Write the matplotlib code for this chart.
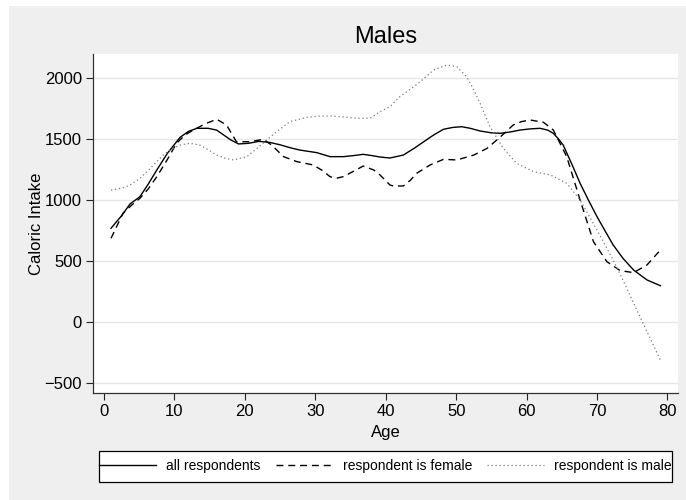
import matplotlib.pyplot as plt
from matplotlib.lines import Line2D
from matplotlib.patches import Rectangle

plt.rcParams['font.family'] = ['Liberation Sans', 'DejaVu Sans']

# smoothed caloric intake by age
age_all = [1, 2.5, 3.7, 5.1, 6.3, 7.5, 9, 10.8, 12, 13.2, 14.8, 16, 17, 18, 19.1,
           20.5, 22, 23.5, 25, 26.5, 27.8, 30.2, 32.1, 34, 35.5, 36.8, 38, 39.2,
           40.6, 42.5, 44, 45.4, 46.8, 48.2, 49.5, 50.8, 52, 53.4, 55, 56.3, 57.7,
           59.1, 60.5, 61.9, 63, 63.8, 64.5, 65.2, 66.4, 67.6, 68.8, 70, 71.2,
           72.3, 73.7, 75.2, 77.1, 79]
cal_all = [767, 870, 966, 1025, 1130, 1244, 1380, 1511, 1560, 1585, 1585, 1570,
           1530, 1490, 1457, 1462, 1478, 1470, 1450, 1425, 1407, 1386, 1353, 1353,
           1362, 1372, 1362, 1350, 1342, 1366, 1420, 1475, 1530, 1577, 1592, 1598,
           1585, 1563, 1548, 1544, 1555, 1571, 1580, 1585, 1570, 1544, 1500, 1448,
           1295, 1135, 995, 862, 740, 630, 520, 425, 344, 297]

age_female = [1, 2.7, 4, 5.1, 6.3, 7.5, 9, 10.3, 11.5, 12.7, 14.3, 16, 17.4, 18.8,
              20.7, 22.6, 23.8, 25.5, 27.4, 29.7, 31, 32.1, 33, 34, 34.9, 36.8,
              38.3, 39.2, 40.6, 41.1, 42.5, 43.5, 44.4, 46.3, 48.2, 50.1, 52.5,
              54.4, 56.3, 58.1, 59.3, 60.5, 62.4, 63.8, 65.7, 67.6, 69.5, 71.4,
              73.3, 75.2, 77.1, 79]
cal_female = [685, 890, 960, 1012, 1090, 1189, 1330, 1462, 1530, 1571, 1620, 1659,
              1612, 1475, 1475, 1495, 1448, 1353, 1312, 1285, 1240, 1189, 1176,
              1190, 1217, 1276, 1244, 1203, 1121, 1113, 1113, 1160, 1217, 1285,
              1331, 1326, 1366, 1421, 1516, 1612, 1640, 1653, 1634, 1571, 1353,
              998, 657, 494, 420, 404, 467, 589]

age_male = [1, 2.5, 3.7, 5, 6.1, 7.3, 8.4, 9.6, 10.8, 12.2, 13.6, 14.8, 16, 17.2,
            18.4, 20.3, 21.7, 23.1, 24.8, 26.4, 28.8, 30.5, 32.1, 34, 35.9, 37.8,
            39.2, 40.6, 42, 43.5, 44.9, 46.8, 48.7, 50.1, 51.5, 52.5, 53.4, 54.8,
            56.7, 58.6, 61, 63.4, 65.7, 67.6, 70, 72.3, 73.8, 75.2, 77.1, 79]
cal_male = [1080, 1095, 1121, 1170, 1230, 1300, 1366, 1415, 1448, 1462, 1448, 1410,
            1366, 1340, 1326, 1353, 1420, 1489, 1570, 1639, 1675, 1684, 1686, 1678,
            1667, 1667, 1721, 1762, 1844, 1905, 1966, 2062, 2103, 2089, 2007, 1900,
            1790, 1598, 1421, 1298, 1230, 1203, 1135, 998, 753, 507, 330, 153,
            -79, -311]

labels = ['all respondents', 'respondent is female', 'respondent is male']
xticks = [0, 10, 20, 30, 40, 50, 60, 70, 80]
yticks = [-500, 0, 500, 1000, 1500, 2000]

W, H = 686, 500
bg = '#efefef'
fig = plt.figure(figsize=(W / 100, H / 100), dpi=100, facecolor='white')
fig.patches.append(Rectangle((9 / W, 0), 1 - 9 / W, 1 - 6 / H, transform=fig.transFigure,
                             facecolor=bg, edgecolor='none', zorder=-10))

ax = fig.add_axes([93 / W, 1 - 393 / H, (678 - 93) / W, (393 - 54) / H])
ax.set_facecolor('white')

l1, = ax.plot(age_all, cal_all, color='black', lw=1.0, label=labels[0])
l2, = ax.plot(age_female, cal_female, color='black', lw=1.0, dashes=(5, 3.5), label=labels[1])
l3, = ax.plot(age_male, cal_male, color='#7a7a7a', lw=0.9, linestyle=(0, (1, 2.2)), label=labels[2])

ax.set_xlim(-1.56, 81.5)
ax.set_ylim(-581, 2193)
ax.set_xticks(xticks)
ax.set_yticks(yticks)
ax.set_yticklabels(['\u2212500' if v < 0 else str(v) for v in yticks])
ax.grid(axis='y', color='#e6e6e6', lw=1.0)
ax.set_axisbelow(True)
for s in ['top', 'right']:
    ax.spines[s].set_visible(False)
for s in ['left', 'bottom']:
    ax.spines[s].set_color('#333333')
    ax.spines[s].set_linewidth(0.9)
ax.tick_params(direction='out', length=5, width=0.8, labelsize=12, pad=3, colors='#222222',
               labelcolor='black')

ax.set_xlabel('Age', fontsize=12)
ax.xaxis.label.set_va('baseline')
ax.xaxis.set_label_coords(0.5, (393 - 437) / 339)
ax.set_ylabel('Caloric Intake', fontsize=12)
ax.yaxis.label.set_va('center')
ax.yaxis.set_label_coords((37 - 93) / 585, 0.5)

fig.text(385.5 / W, 1 - 43.3 / H, 'Males', fontsize=17, ha='center', va='baseline')

# legend box
fig.patches.append(Rectangle((99 / W, 1 - 482 / H), (672 - 99) / W, (482 - 450.7) / H,
                             transform=fig.transFigure, facecolor='white',
                             edgecolor='black', lw=0.9, zorder=1))
leg = fig.legend(handles=[l1, l2, l3], ncol=3, loc='center left',
                 bbox_to_anchor=(99 / W, 1 - 466.3 / H), frameon=False, fontsize=10,
                 handlelength=4.1, handletextpad=0.72, columnspacing=1.1,
                 borderpad=0, borderaxespad=0)
leg.set_zorder(2)

fig.savefig('out.png', dpi=100, facecolor='white')
